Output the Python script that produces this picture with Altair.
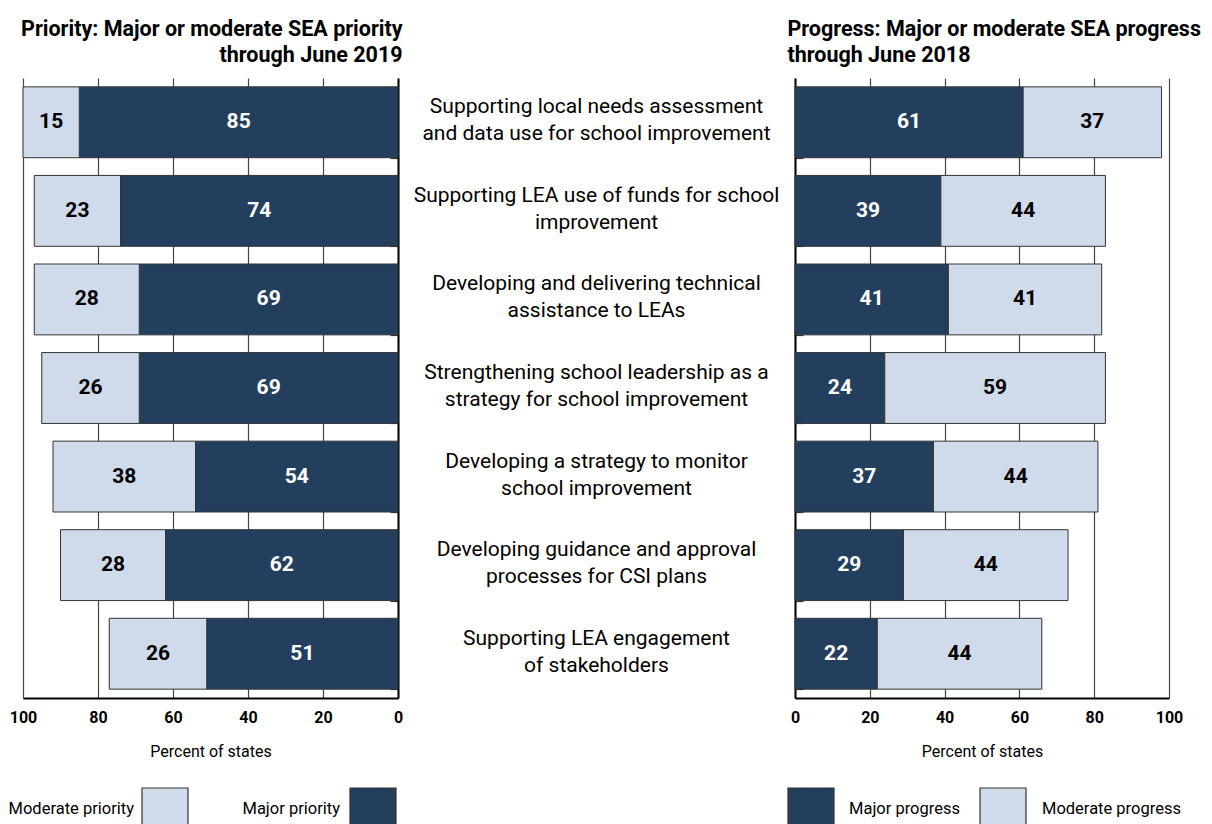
import altair as alt
import pandas as pd

categories = [
    "Supporting local needs assessment\nand data use for school improvement",
    "Supporting LEA use of funds for school\nimprovement",
    "Developing and delivering technical\nassistance to LEAs",
    "Strengthening school leadership as a\nstrategy for school improvement",
    "Developing a strategy to monitor\nschool improvement",
    "Developing guidance and approval\nprocesses for CSI plans",
    "Supporting LEA engagement\nof stakeholders",
]
priority_major = [85, 74, 69, 69, 54, 62, 51]
priority_moderate = [15, 23, 28, 26, 38, 28, 26]
progress_major = [61, 39, 41, 24, 37, 29, 22]
progress_moderate = [37, 44, 41, 59, 44, 44, 44]
tick_values = [0, 20, 40, 60, 80, 100]
priority_levels = ["Major priority", "Moderate priority"]
progress_levels = ["Major progress", "Moderate progress"]
priority_title = ["Priority: Major or moderate SEA priority", "through June 2019"]
progress_title = ["Progress: Major or moderate SEA progress", "through June 2018"]
x_title = "Percent of states"

FONT = "Roboto"
DARK = "#243f5e"
LIGHT = "#cfdbea"
W_L, W_M, W_R, H = 375, 397, 374, 620


def stacked(major, moderate, levels):
    rows = []
    for c, a, b in zip(categories, major, moderate):
        rows.append(dict(cat=c, level=levels[0], start=0, end=a, value=a))
        rows.append(dict(cat=c, level=levels[1], start=a, end=a + b, value=b))
    df = pd.DataFrame(rows)
    df["mid"] = (df["start"] + df["end"]) / 2
    return df


yscale = alt.Scale(domain=categories, paddingInner=0.2, paddingOuter=0.1)
one = alt.Data(values=[{}])


def legend_item(x0, label, fill, text_x, align):
    sq = alt.Chart(one).mark_rect(fill=fill, stroke="#333", strokeWidth=1.2).encode(
        x=alt.value(x0), x2=alt.value(x0 + 46), y=alt.value(710), y2=alt.value(752)
    )
    tx = alt.Chart(one).mark_text(
        text=label, align=align, baseline="middle", fontSize=16.5, font=FONT, color="black"
    ).encode(x=alt.value(text_x), y=alt.value(731))
    return sq + tx


def panel(df, levels, reverse, title, anchor, width, axis_orient, legend_layers):
    xscale = alt.Scale(domain=[0, 100], reverse=reverse, nice=False)
    xaxis = alt.Axis(
        values=tick_values, grid=True, gridColor="#444", gridWidth=1.2, ticks=False,
        domain=True, domainColor="black", domainWidth=2, labelFontWeight="bold",
        labelFontSize=16, labelColor="black", labelPadding=11, labelFont=FONT,
        labelFlush=False,
        title=x_title, titleFontWeight="normal", titleFontSize=16, titleFont=FONT,
        titleColor="black", titlePadding=18,
    )
    yaxis = alt.Axis(
        orient=axis_orient, offset=-width, labels=False, ticks=True, tickSize=8,
        tickBand="extent", tickColor="#333", tickWidth=1.2, domain=True,
        domainColor="black", domainWidth=2, title=None, grid=False,
    )
    color = alt.Color(
        "level:N", scale=alt.Scale(domain=levels, range=[DARK, LIGHT]), legend=None
    )
    base = alt.Chart(df)
    bars = base.mark_bar(stroke="#333", strokeWidth=1).encode(
        x=alt.X("start:Q", scale=xscale, axis=xaxis),
        x2="end:Q",
        y=alt.Y("cat:N", sort=categories, scale=yscale, axis=yaxis),
        color=color,
    )
    labels = base.mark_text(
        fontSize=21, fontWeight="bold", font=FONT, baseline="middle", align="center"
    ).encode(
        x=alt.X("mid:Q", scale=xscale),
        y=alt.Y("cat:N", sort=categories, scale=yscale),
        text="value:Q",
        color=alt.condition(
            alt.datum.level == levels[0], alt.value("white"), alt.value("black")
        ),
    )
    layers = [bars, labels] + legend_layers
    return alt.layer(*layers).properties(
        width=width, height=H,
        title=alt.TitleParams(
            title, anchor=anchor, fontSize=21.5, fontWeight="bold", font=FONT,
            lineHeight=26, offset=12, color="black",
        ),
    )


left = panel(
    stacked(priority_major, priority_moderate, priority_levels), priority_levels,
    True, priority_title, "end", W_L, "left",
    [legend_item(119, priority_levels[1], LIGHT, 111, "right"),
     legend_item(327, priority_levels[0], DARK, 317, "right")],
)
right = panel(
    stacked(progress_major, progress_moderate, progress_levels), progress_levels,
    False, progress_title, "start", W_R, "right",
    [legend_item(-7, progress_levels[0], DARK, 54, "left"),
     legend_item(185, progress_levels[1], LIGHT, 247, "left")],
)

mid_df = pd.DataFrame({"cat": categories})
middle = alt.Chart(mid_df).mark_text(
    lineBreak="\n", fontSize=21, font=FONT, color="black", align="center",
    baseline="middle", lineHeight=27, dy=-15,
).encode(
    y=alt.Y("cat:N", sort=categories, scale=yscale, axis=None),
    x=alt.value(W_M / 2),
    text="cat:N",
).properties(width=W_M, height=H)

chart = alt.hconcat(left, middle, right, spacing=0, bounds="flush").resolve_scale(
    x="independent", color="independent"
).properties(
    padding={"left": 0, "top": 10, "right": 0, "bottom": 0}
).configure_view(strokeWidth=0)

chart.save("out.html", embed_options={"renderer": "svg", "actions": False})
